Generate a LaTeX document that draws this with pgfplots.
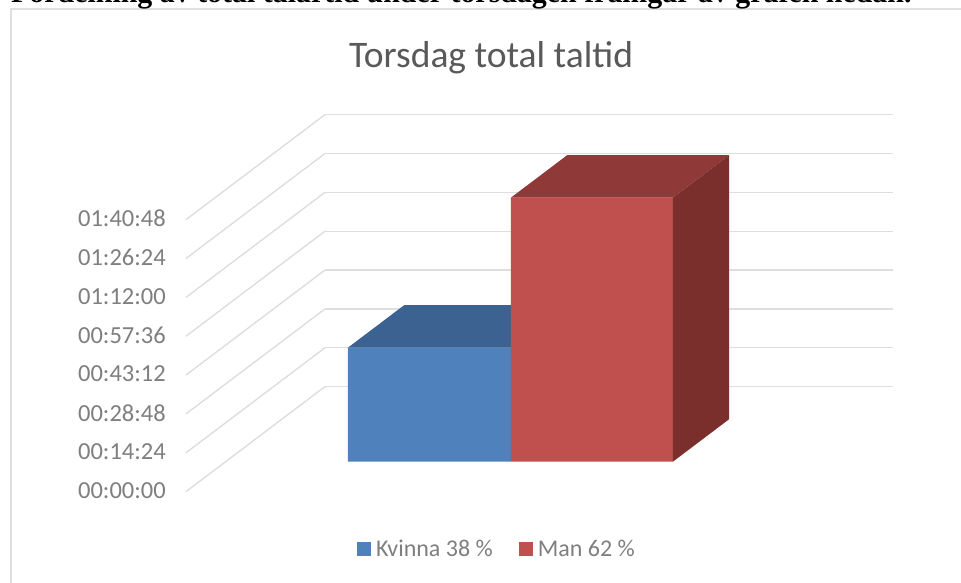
\documentclass[border=0pt]{standalone}
\usepackage{pgfplots}
\pgfplotsset{compat=1.18}
\usepackage{fontspec}
\setmainfont{Carlito}
\newfontfamily\headfont{Liberation Serif}
\definecolor{gridc}{HTML}{DEDEDE}
\definecolor{blueF}{HTML}{4F81BD}
\definecolor{blueT}{HTML}{3B6290}
\definecolor{redF}{HTML}{C0504D}
\definecolor{redT}{HTML}{8F3A38}
\definecolor{redS}{HTML}{7B2F2D}
\definecolor{txt}{HTML}{7F7F7F}
\definecolor{ttl}{HTML}{595959}
\begin{document}
\begin{tikzpicture}[x=1pt,y=1pt]
\path[use as bounding box,clip] (0,0) rectangle (961,583);
\fill[white] (0,0) rectangle (961,583);
\draw[line width=2.5pt,color=gray!25] (961,574) -- (11,574) -- (11,0);
\node[anchor=base west,inner sep=0pt,font=\headfont\bfseries\fontsize{29.9}{31}\selectfont] at (11,580) {Fördelning av total talartid under torsdagen framgår av grafen nedan.};
\node[anchor=center,inner sep=0pt,text=ttl,font=\fontsize{37.5}{40}\selectfont] at (491,525) {Torsdag total taltid};
\begin{axis}[
  at={(65,87)},anchor=origin,
  x={(1pt,0pt)},y={(139pt,105pt)},z={(0pt,2.698pt)},
  xmin=0,xmax=568,ymin=0,ymax=1,zmin=0,zmax=100.8,
  axis line style={draw=none},tick style={draw=none},
  xtick=\empty,ytick=\empty,
  ztick={0,14.4,28.8,43.2,57.6,72,86.4,100.8},
  zticklabels={00:00:00,00:14:24,00:28:48,00:43:12,00:57:36,01:12:00,01:26:24,01:40:48},
  grid=major,major grid style={gridc,line width=1.4pt},
  ztick pos=left,
  z tick label style={font=\fontsize{24.5}{26}\selectfont,text=txt,anchor=east,inner sep=0pt,xshift=-20pt,yshift=1pt},
  clip=false,
  legend columns=2,
  legend style={at={(357pt,35pt)},anchor=west,xshift=-186pt,yshift=-92pt,draw=none,fill=none,inner sep=0pt,font=\fontsize{24}{26}\selectfont,text=txt,/tikz/every even column/.append style={column sep=24pt},/tikz/every odd column/.append style={column sep=3pt}},
  legend image code/.code={\fill[#1] (0pt,-7pt) rectangle (14pt,7pt);},
]
% Kvinna
\addplot3[fill=blueF,draw=none,no marks] coordinates {(122.3,0.286,0) (285.3,0.286,0) (285.3,0.286,42.25) (122.3,0.286,42.25) (122.3,0.286,0)};
\addplot3[forget plot,fill=blueT,draw=none,no marks] coordinates {(122.3,0.286,42.25) (285.3,0.286,42.25) (285.3,0.69,42.25) (122.3,0.69,42.25) (122.3,0.286,42.25)};
% Man
\addplot3[fill=redF,draw=none,no marks] coordinates {(285.3,0.286,0) (447.3,0.286,0) (447.3,0.286,97.85) (285.3,0.286,97.85) (285.3,0.286,0)};
\addplot3[forget plot,fill=redT,draw=none,no marks] coordinates {(285.3,0.286,97.85) (447.3,0.286,97.85) (447.3,0.69,97.85) (285.3,0.69,97.85) (285.3,0.286,97.85)};
\addplot3[forget plot,fill=redS,draw=none,no marks] coordinates {(447.3,0.286,0) (447.3,0.69,0) (447.3,0.69,97.85) (447.3,0.286,97.85) (447.3,0.286,0)};
\legend{Kvinna 38 \%,Man 62 \%}
\end{axis}
\end{tikzpicture}
\end{document}
